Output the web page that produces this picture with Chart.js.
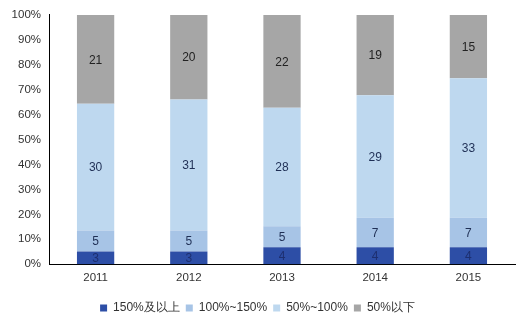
<!DOCTYPE html>
<html>
<head>
<meta charset="utf-8">
<script src="https://cdn.jsdelivr.net/npm/chart.js@4/dist/chart.umd.min.js"></script>
<style>
  html, body { margin: 0; padding: 0; background: #fff; }
  #wrap { width: 530px; height: 328px; }
</style>
</head>
<body>
<div id="wrap"><canvas id="c" width="530" height="328"></canvas></div>
<script>
// Years along the x axis
const years = ['2011', '2012', '2013', '2014', '2015'];

// Counts per coverage band (bottom to top of each stack)
const band150Plus = [3, 3, 4, 4, 4];      // 150%及以上
const band100to150 = [5, 5, 5, 7, 7];     // 100%~150%
const band50to100 = [30, 31, 28, 29, 33]; // 50%~100%
const bandBelow50 = [21, 20, 22, 19, 15]; // 50%以下

const seriesNames = ['150%及以上', '100%~150%', '50%~100%', '50%以下'];
const yTicks = [0, 10, 20, 30, 40, 50, 60, 70, 80, 90, 100];

const rawSeries = [band150Plus, band100to150, band50to100, bandBelow50];
const totals = years.map((_, i) => rawSeries.reduce((s, arr) => s + arr[i], 0));
const colors = ['#2d4ea6', '#a7c4e6', '#bed8ef', '#a6a6a6'];
const labelColors = ['#1d2f70', '#1f2f55', '#1f2f55', '#222222'];

const datasets = rawSeries.map((arr, k) => ({
  label: seriesNames[k],
  data: arr.map((v, i) => v / totals[i] * 100),
  raw: arr,
  backgroundColor: colors[k],
  borderWidth: 0,
  barPercentage: 0.4,
  categoryPercentage: 1.0
}));

// Writes the count of each segment in its middle
const segmentLabels = {
  id: 'segmentLabels',
  afterDatasetsDraw(chart) {
    const ctx = chart.ctx;
    ctx.save();
    ctx.font = '12px "Liberation Sans", Arial, sans-serif';
    ctx.textAlign = 'center';
    ctx.textBaseline = 'middle';
    chart.data.datasets.forEach((ds, k) => {
      const meta = chart.getDatasetMeta(k);
      meta.data.forEach((bar, i) => {
        const mid = (bar.y + bar.base) / 2;
        ctx.fillStyle = labelColors[k];
        ctx.fillText(String(ds.raw[i]), bar.x, mid + 1);
      });
    });
    ctx.restore();
  }
};

new Chart(document.getElementById('c'), {
  type: 'bar',
  data: { labels: years, datasets },
  options: {
    responsive: false,
    animation: false,
    layout: { padding: { top: 9, right: 15, left: 0, bottom: 4 } },
    plugins: {
      legend: {
        position: 'bottom',
        labels: {
          boxWidth: 7,
          boxHeight: 7,
          padding: 6,
          color: '#333',
          font: { size: 12, family: '"Liberation Sans", Arial, sans-serif' }
        }
      },
      tooltip: { enabled: false }
    },
    scales: {
      x: {
        stacked: true,
        afterFit(scale) { scale.height += 4; },
        grid: { display: false, drawTicks: false },
        border: { display: true, color: '#000', width: 1 },
        ticks: {
          color: '#333',
          padding: 7,
          font: { size: 11.5, family: '"Liberation Sans", Arial, sans-serif' }
        }
      },
      y: {
        stacked: true,
        min: 0,
        max: 100,
        afterBuildTicks(scale) { scale.ticks = yTicks.map(v => ({ value: v })); },
        afterFit(scale) { scale.width = 49; },
        grid: { display: false, drawTicks: false },
        border: { display: true, color: '#000', width: 1 },
        ticks: {
          color: '#333',
          padding: 8,
          callback: v => v + '%',
          font: { size: 11.5, family: '"Liberation Sans", Arial, sans-serif' }
        }
      }
    }
  },
  plugins: [segmentLabels]
});
</script>
</body>
</html>
